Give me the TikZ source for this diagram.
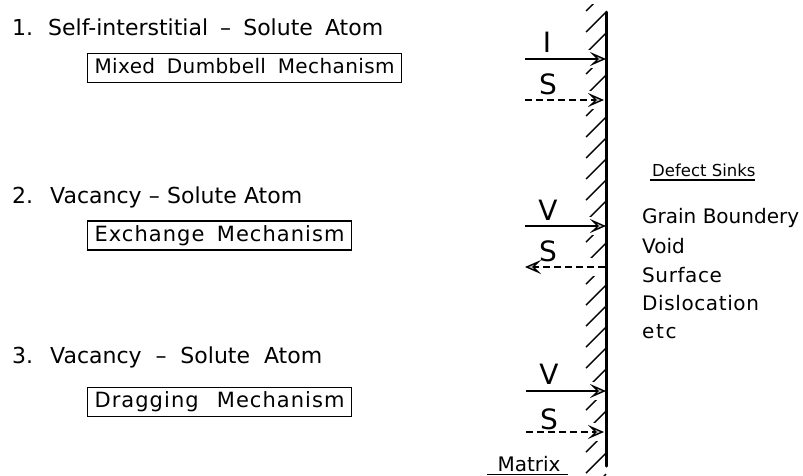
\documentclass[tikz,border=0pt]{standalone}
\usepackage{fontspec}
\setmainfont{DejaVu Sans}
\usetikzlibrary{arrows.meta}
\begin{document}
\begin{tikzpicture}[x=1pt,y=-1pt,
  ttl/.style={anchor=base west, inner sep=0pt, font=\fontsize{22}{26}\selectfont},
  mech/.style={draw, line width=1.1pt, anchor=west, inner xsep=7pt, inner ysep=0pt,
    minimum height=29pt, text height=15pt, text depth=4pt,
    font=\fontsize{21}{24}\selectfont\addfontfeatures{LetterSpace=5}},
  lbl/.style={inner sep=0pt, font=\fontsize{28}{30}\selectfont},
  sink/.style={anchor=base west, inner sep=0pt, font=\fontsize{20}{24}\selectfont},
  flux/.style={line width=2pt, -{Stealth[length=16pt,width=14pt,inset=7pt,fill=gray!50,line width=1.4pt]}},
  dflux/.style={flux, dash pattern=on 7pt off 4pt},
  hatch/.style={line width=1.4pt},
  uline/.style={line width=1.3pt},
]
\useasboundingbox (0,0) rectangle (803,475);

% left column
\node[ttl] (n1) at (12,35) {1.};
\node[ttl] (t1) at (48,35) {\makebox[335pt][s]{Self-interstitial  – Solute Atom}};
\node[mech, font=\fontsize{20}{24}\selectfont\addfontfeatures{LetterSpace=2}] (b1) at (87,68) {\makebox[300pt][s]{Mixed Dumbbell Mechanism}};

\node[ttl] (n2) at (12,203) {2.};
\node[ttl] (t2) at (50,203) {\makebox[252pt][s]{Vacancy – Solute Atom}};
\node[mech] (b2) at (87,235.5) {\makebox[250pt][s]{Exchange Mechanism}};

\node[ttl] (n3) at (12,363) {3.};
\node[ttl] (t3) at (50,363) {\makebox[272pt][s]{Vacancy – Solute Atom}};
\node[mech] (b3) at (87,402) {\makebox[250pt][s]{Dragging Mechanism}};

% hatching of the matrix wall
\begin{scope}
  \clip (578,4) rectangle (608,475);
  \foreach \k in {-1,...,22} {
    \draw[hatch] (586,{32+21*\k}) -- (606,{12+21*\k});
  }
\end{scope}
\foreach \yy in {59,100,226,267,391,432} {
  \fill[white] (581,\yy-9) rectangle (604.5,\yy+9);
}
\draw[line width=3pt, line cap=round] (606,12) -- (606,466);

% flux arrows
\coordinate (a1) at (525,59);  \coordinate (w1) at (606,59);
\coordinate (a2) at (525,100); \coordinate (w2) at (604,100);
\coordinate (a3) at (525,226); \coordinate (w3) at (606,226);
\coordinate (a4) at (525,267); \coordinate (w4) at (605,267);
\coordinate (a5) at (526,391); \coordinate (w5) at (606,391);
\coordinate (a6) at (526,432); \coordinate (w6) at (604,432);
\draw[flux] (a1) -- (w1);
\draw[dflux] (a2) -- (w2);
\draw[flux] (a3) -- (w3);
\draw[dflux] (w4) -- (a4);
\draw[flux] (a5) -- (w5);
\draw[dflux] (a6) -- (w6);

\node[lbl] (lI) at (547,42) {I};
\node[lbl] (lS1) at (548,84) {S};
\node[lbl] (lV2) at (548,210) {V};
\node[lbl] (lS2) at (548,251) {S};
\node[lbl] (lV3) at (549,374) {V};
\node[lbl] (lS3) at (549,419) {S};

% matrix label
\node[anchor=base, inner sep=0pt, font=\fontsize{20}{22}\selectfont] (mx) at (529,471) {Matrix};
\draw[uline] (487,474.3) -- (568,474.3);

% defect sinks
\node[anchor=base west, inner sep=0pt, font=\fontsize{16.5}{20}\selectfont] (ds) at (652,176) {Defect Sinks};
\draw[uline] (650,180) -- (755,180);
\node[sink] (s1) at (642,223) {Grain Boundery};
\node[sink] (s2) at (642,253) {Void};
\node[sink, font=\fontsize{20}{24}\selectfont\addfontfeatures{LetterSpace=3}] (s3) at (642,282) {Surface};
\node[sink, font=\fontsize{20}{24}\selectfont\addfontfeatures{LetterSpace=3}] (s4) at (642,310) {Dislocation};
\node[sink, font=\fontsize{20}{24}\selectfont\addfontfeatures{LetterSpace=8}] (s5) at (642,338) {etc};
\end{tikzpicture}
\end{document}
